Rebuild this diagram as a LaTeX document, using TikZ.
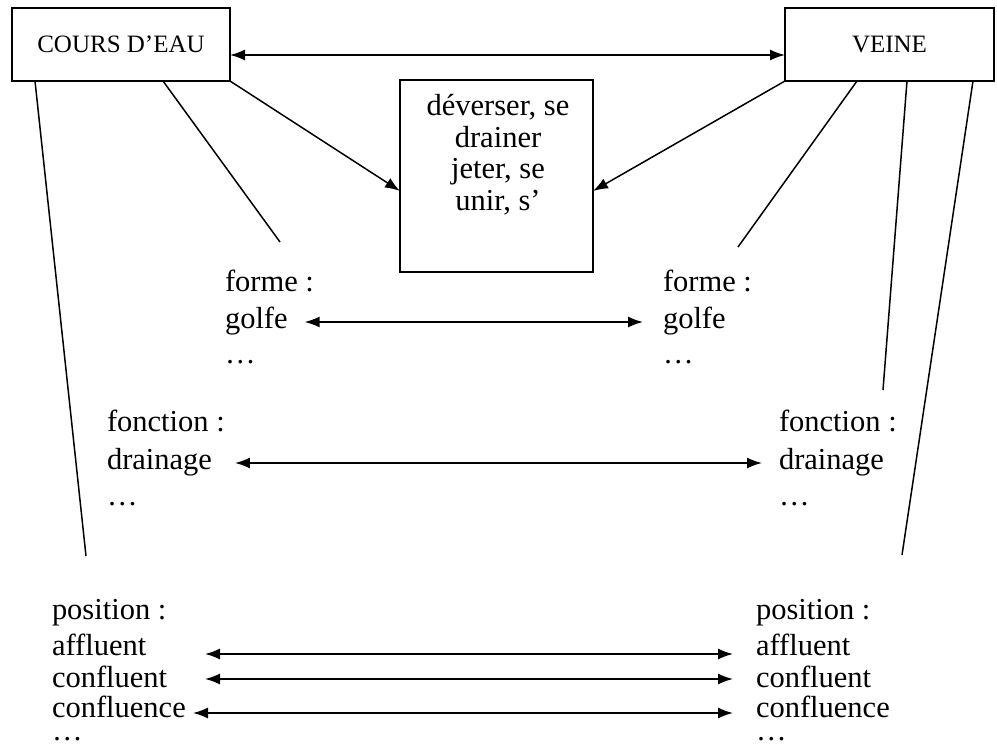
\documentclass[tikz,border=0pt]{standalone}
\usepackage{fontspec}
\setmainfont{Liberation Serif}
\usetikzlibrary{arrows.meta}
\begin{document}
\begin{tikzpicture}[x=1pt,y=-1pt,
  every node/.style={inner sep=0pt, outer sep=0pt},
  word/.style={anchor=base west, font=\fontsize{30.5}{36}\selectfont},
  dots/.style={word, text height=4pt, text depth=0pt},
  midword/.style={anchor=base, font=\fontsize{30.5}{34}\selectfont},
  headbox/.style={draw, line width=1.4pt, font=\fontsize{25}{30}\selectfont},
  plainbox/.style={draw, line width=1.4pt},
  link/.style={line width=1.5pt},
  tip/.style={-{Latex[length=15pt,width=11pt]}, line width=1.5pt},
  both/.style={{Latex[length=15pt,width=11pt]}-{Latex[length=15pt,width=11pt]}, line width=1.5pt}
]
\useasboundingbox (0,0) rectangle (997,745);

% the two headwords and the shared verbs
\node[headbox, minimum width=218pt, minimum height=73pt] (cours) at (121,44.5) {COURS D’EAU};
\node[headbox, minimum width=209pt, minimum height=73pt] (veine) at (889.5,44.5) {VEINE};
\node[plainbox, minimum width=193pt, minimum height=192pt] (mid) at (496.5,176) {};
\node[midword] (m1) at (498,115) {déverser, se};
\node[midword] (m2) at (498,147) {drainer};
\node[midword] (m3) at (498,178) {jeter, se};
\node[midword] (m4) at (498,210) {unir, s’};

% forme
\node[word] (formeL) at (225,291) {forme :};
\node[word] (golfeL) at (225,328) {golfe};
\node[dots] (fdotsL) at (225,363) {…};
\node[word] (formeR) at (663,291) {forme :};
\node[word] (golfeR) at (663,328) {golfe};
\node[dots] (fdotsR) at (663,363) {…};

% fonction
\node[word] (foncL) at (107,431) {fonction :};
\node[word] (drainL) at (107,469) {drainage};
\node[dots] (ddotsL) at (107,505) {…};
\node[word] (foncR) at (779,431) {fonction :};
\node[word] (drainR) at (779,469) {drainage};
\node[dots] (ddotsR) at (779,505) {…};

% position
\node[word] (posL) at (52,619) {position :};
\node[word] (affL) at (52,655) {affluent};
\node[word] (cfltL) at (52,687) {confluent};
\node[word] (cfceL) at (52,717) {confluence};
\node[dots] (pdotsL) at (52,740) {…};
\node[word] (posR) at (756,619) {position :};
\node[word] (affR) at (756,655) {affluent};
\node[word] (cfltR) at (756,687) {confluent};
\node[word] (cfceR) at (756,717) {confluence};
\node[dots] (pdotsR) at (756,740) {…};

% free ends of the branch lines
\coordinate (endFormeL) at (280,242);
\coordinate (endPosL) at (86,556);
\coordinate (endFormeR) at (738,247);
\coordinate (endFoncR) at (883,390);
\coordinate (endPosR) at (902,555);

% headword link
\draw[both] ([yshift=-10.5pt]cours.east) -- ([yshift=-10.5pt]veine.west);

% arrows into the verb box
\draw[tip] (cours.south east) -- ([yshift=-15pt]mid.west);
\draw[tip] (veine.south west) -- ([yshift=-15pt]mid.east);

% branch lines
\draw[link] ([xshift=42pt]cours.south) -- (endFormeL);
\draw[link] ([xshift=-86pt]cours.south) -- (endPosL);
\draw[link] ([xshift=-32.5pt]veine.south) -- (endFormeR);
\draw[link] ([xshift=17.5pt]veine.south) -- (endFoncR);
\draw[link] ([xshift=83.5pt]veine.south) -- (endPosR);

% correspondences
\draw[both] ([shift={(17pt,6pt)}]golfeL.base east) -- ([shift={(-20pt,6pt)}]golfeR.base west);
\draw[both] ([shift={(23pt,6pt)}]drainL.base east) -- ([shift={(-17pt,6pt)}]drainR.base west);
\draw[both] ([shift={(153pt,1pt)}]affL.base west) -- ([shift={(-23pt,1pt)}]affR.base west);
\draw[both] ([shift={(153pt,8pt)}]cfltL.base west) -- ([shift={(-23pt,8pt)}]cfltR.base west);
\draw[both] ([shift={(141pt,4pt)}]cfceL.base west) -- ([shift={(-23pt,4pt)}]cfceR.base west);
\end{tikzpicture}
\end{document}
